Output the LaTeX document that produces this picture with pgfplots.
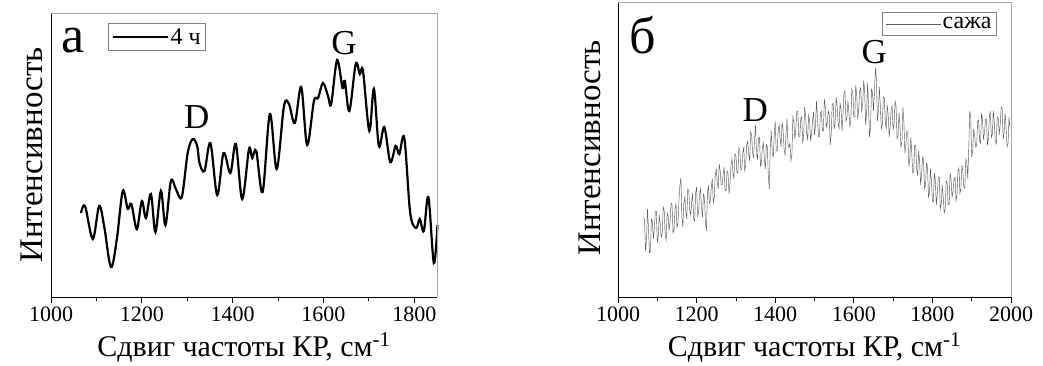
\documentclass[border=0pt]{standalone}
\usepackage{fontspec}
\setmainfont{Liberation Serif}
\usepackage{pgfplots}
\pgfplotsset{compat=1.18}
\pgfplotsset{
  panel/.style={
    scale only axis,
    axis x line*=bottom, axis y line*=left,
    axis line style={black, line width=0.9pt},
    ytick=\empty,
    tick align=outside,
    major tick length=6pt, minor tick length=4pt,
    every tick/.style={black, line width=0.8pt},
    /pgf/number format/assume math mode=true,
    /pgf/number format/set thousands separator={},
    xticklabel style={font=\fontsize{22}{24}\selectfont},
    xlabel style={font=\fontsize{30}{34}\selectfont, at={(axis description cs:0.5,0)}, anchor=base, yshift=-59pt},
    ylabel style={font=\fontsize{33}{36}\selectfont, anchor=base, rotate=0},
    ymin=0,
    clip=false,
    legend image code/.code={\draw[#1] (0pt,0pt) -- (50pt,0pt); \path (0pt,0pt) -- (55pt,0pt);},
  }
}
\begin{document}
\begin{tikzpicture}
\begin{axis}[panel,
  at={(51pt,68pt)}, anchor=south west,
  width=386pt, height=284pt,
  xmin=1000, xmax=1850, ymax=284,
  xtick={1000,1200,...,1800}, minor xtick={1100,1300,...,1700},
  xlabel={Сдвиг частоты КР, см\textsuperscript{-1}},
  ylabel={Интенсивность},
  ylabel style={at={(axis description cs:-0.0233,0.5)}},
  legend style={draw=gray, line width=0.6pt, font=\fontsize{24}{26}\selectfont, at={(0.148,0.965)}, anchor=north west, inner sep=3pt},
]
\addplot[black, line width=2.2pt, smooth, tension=0.55] coordinates {
(1066,84) (1075,91) (1092,58) (1106,91) (1117,71) (1132,30) (1145,58) (1158,106)
(1169,88) (1177,93) (1189,68) (1200,96) (1209,79) (1220,103) (1230,65) (1242,106)
(1252,72) (1264,116) (1275,108) (1288,100) (1301,144) (1312,158) (1322,151) (1327,134)
(1338,126) (1351,154) (1366,102) (1380,144) (1395,124) (1407,153) (1421,98) (1436,148)
(1443,139) (1452,146) (1466,105) (1482,183) (1497,128) (1513,191) (1524,193) (1537,174)
(1551,210) (1564,152) (1579,196) (1588,199) (1599,214) (1610,201) (1617,193) (1630,237)
(1642,209) (1647,216) (1657,186) (1671,233) (1680,223) (1687,226) (1701,166) (1711,208)
(1722,151) (1734,170) (1747,135) (1759,151) (1767,143) (1778,159) (1791,84) (1804,69)
(1812,78) (1821,66) (1831,100) (1843,34) (1851,72)
};
\addlegendentry{4 ч}
\draw[gray!70, line width=0.7pt] (rel axis cs:0,1) -- (rel axis cs:1,1) -- (rel axis cs:1,0);
\node[font=\fontsize{52}{56}\selectfont, anchor=base west, inner sep=0pt] at (axis cs:1022,245) {а};
\node[font=\fontsize{35}{38}\selectfont] at (axis cs:1321,180) {D};
\node[font=\fontsize{35}{38}\selectfont] at (axis cs:1645,254) {G};
\end{axis}

\begin{axis}[panel,
  at={(618pt,68pt)}, anchor=south west,
  width=393pt, height=295pt,
  xmin=1000, xmax=2000, ymax=295,
  xtick={1000,1200,...,2000}, minor xtick={1100,1300,...,1900},
  xlabel={Сдвиг частоты КР, см\textsuperscript{-1}},
  ylabel={Интенсивность},
  ylabel style={at={(axis description cs:-0.0458,0.505)}},
  legend style={draw=gray, line width=0.6pt, font=\fontsize{24}{26}\selectfont, at={(0.964,0.966)}, anchor=north east, inner sep=3pt},
]
\addplot[black!65, line width=0.45pt] coordinates {
(1065,80) (1067.5,77) (1070,46) (1072.5,57) (1075,88) (1077.5,70) (1080,44) (1082.5,46) (1085,78) (1087.5,76) (1090,58) (1092.5,69) (1095,86) (1097.5,86) (1100,54)
(1102.5,61) (1105,82) (1107.5,73) (1110,60) (1112.5,63) (1115,90) (1117.5,87) (1120,62) (1122.5,57) (1125,84) (1127.5,81) (1130,66) (1132.5,76) (1135,94) (1137.5,92) (1140,64) (1142.5,67) (1145,88) (1147.5,93) (1150,70)
(1152.5,73) (1155,96) (1157.5,112) (1160,119) (1162.5,80) (1165,70) (1167.5,93) (1170,100) (1172.5,86) (1175,78) (1177.5,108) (1180,106) (1182.5,87) (1185,82) (1187.5,95) (1190,104) (1192.5,78) (1195,76) (1197.5,104) (1200,110)
(1202.5,81) (1205,84) (1207.5,102) (1210,108) (1212.5,90) (1215,80) (1217.5,103) (1220,100) (1222.5,74) (1225,66) (1227.5,103) (1230,112) (1232.5,94) (1235,96) (1237.5,111) (1240,118) (1242.5,94) (1245,100) (1247.5,122) (1250,128)
(1252.5,115) (1255,108) (1257.5,133) (1260,126) (1262.5,112) (1265,112) (1267.5,123) (1270,130) (1272.5,106) (1275,106) (1277.5,126) (1280,124) (1282.5,103) (1285,114) (1287.5,132) (1290,138) (1292.5,124) (1295,118) (1297.5,143) (1300,142)
(1302.5,124) (1305,124) (1307.5,149) (1310,146) (1312.5,127) (1315,128) (1317.5,143) (1320,150) (1322.5,126) (1325,132) (1327.5,152) (1330,156) (1332.5,143) (1335,136) (1337.5,165) (1340,162) (1342.5,144) (1345,140) (1347.5,158) (1350,172)
(1352.5,143) (1355,138) (1357.5,160) (1360,160) (1362.5,131) (1365,134) (1367.5,150) (1370,154) (1372.5,137) (1375,128) (1377.5,152) (1380,150) (1382.5,120) (1385,108) (1387.5,151) (1390,166) (1392.5,143) (1395,140) (1397.5,162) (1400,176)
(1402.5,146) (1405,146) (1407.5,167) (1410,172) (1412.5,158) (1415,150) (1417.5,175) (1420,168) (1422.5,148) (1425,142) (1427.5,162) (1430,178) (1432.5,152) (1435,150) (1437.5,154) (1440,136) (1442.5,142) (1445,180) (1447.5,175) (1450,158)
(1452.5,168) (1455,186) (1457.5,186) (1460,160) (1462.5,160) (1465,178) (1467.5,180) (1470,154) (1472.5,162) (1475,190) (1477.5,181) (1480,164) (1482.5,158) (1485,182) (1487.5,177) (1490,156) (1492.5,163) (1495,176) (1497.5,185) (1500,162)
(1502.5,172) (1505,196) (1507.5,180) (1510,160) (1512.5,160) (1515,184) (1517.5,186) (1520,166) (1522.5,166) (1525,198) (1527.5,190) (1530,170) (1532.5,174) (1535,186) (1537.5,182) (1540,152) (1542.5,163) (1545,192) (1547.5,194) (1550,168)
(1552.5,174) (1555,200) (1557.5,191) (1560,174) (1562.5,169) (1565,194) (1567.5,188) (1570,166) (1572.5,182) (1575,204) (1577.5,206) (1580,176) (1582.5,179) (1585,196) (1587.5,185) (1590,170) (1592.5,177) (1595,208) (1597.5,205) (1600,180)
(1602.5,180) (1605,212) (1607.5,201) (1610,178) (1612.5,188) (1615,206) (1617.5,209) (1620,186) (1622.5,192) (1625,216) (1627.5,208) (1630,172) (1632.5,183) (1635,214) (1637.5,191) (1640,160) (1642.5,169) (1645,208) (1647.5,205) (1650,186)
(1652.5,204) (1655,229) (1657.5,218) (1660,176) (1662.5,186) (1665,210) (1667.5,191) (1670,168) (1672.5,172) (1675,200) (1677.5,199) (1680,176) (1682.5,168) (1685,192) (1687.5,182) (1690,160) (1692.5,170) (1695,188) (1697.5,191) (1700,168)
(1702.5,173) (1705,196) (1707.5,191) (1710,158) (1712.5,161) (1715,184) (1717.5,171) (1720,150) (1722.5,155) (1725,190) (1727.5,175) (1730,144) (1732.5,152) (1735,166) (1737.5,164) (1740,130) (1742.5,138) (1745,160) (1747.5,144) (1750,124)
(1752.5,126) (1755,152) (1757.5,151) (1760,128) (1762.5,121) (1765,146) (1767.5,135) (1770,112) (1772.5,122) (1775,140) (1777.5,137) (1780,108) (1782.5,112) (1785,134) (1787.5,131) (1790,100) (1792.5,104) (1795,128) (1797.5,116) (1800,96)
(1802.5,95) (1805,124) (1807.5,116) (1810,92) (1812.5,103) (1815,120) (1817.5,120) (1820,88) (1822.5,93) (1825,112) (1827.5,100) (1830,84) (1832.5,88) (1835,116) (1837.5,115) (1840,92) (1842.5,92) (1845,124) (1847.5,118) (1850,100)
(1852.5,105) (1855,118) (1857.5,120) (1860,96) (1862.5,102) (1865,126) (1867.5,129) (1870,104) (1872.5,108) (1875,132) (1877.5,125) (1880,110) (1882.5,109) (1885,138) (1887.5,136) (1890,118) (1892.5,149) (1895,186) (1897.5,179) (1900,140)
(1902.5,147) (1905,168) (1907.5,161) (1910,150) (1912.5,151) (1915,176) (1917.5,177) (1920,156) (1922.5,154) (1925,184) (1927.5,177) (1930,158) (1932.5,164) (1935,178) (1937.5,178) (1940,152) (1942.5,158) (1945,182) (1947.5,185) (1950,160)
(1952.5,163) (1955,186) (1957.5,175) (1960,156) (1962.5,153) (1965,180) (1967.5,179) (1970,162) (1972.5,173) (1975,190) (1977.5,190) (1980,158) (1982.5,164) (1985,184) (1987.5,169) (1990,150) (1992.5,153) (1995,180) (1997,170)
};
\addlegendentry{сажа}
\draw[gray!70, line width=0.7pt] (rel axis cs:0,1) -- (rel axis cs:1,1) -- (rel axis cs:1,0);
\node[font=\fontsize{52}{56}\selectfont, anchor=base west, inner sep=0pt] at (axis cs:1030,244) {б};
\node[font=\fontsize{35}{38}\selectfont] at (axis cs:1349,187) {D};
\node[font=\fontsize{35}{38}\selectfont] at (axis cs:1652,245) {G};
\end{axis}
\pgfresetboundingbox
\path[use as bounding box] (0,0) rectangle (1043pt,365pt);
\end{tikzpicture}
\end{document}
